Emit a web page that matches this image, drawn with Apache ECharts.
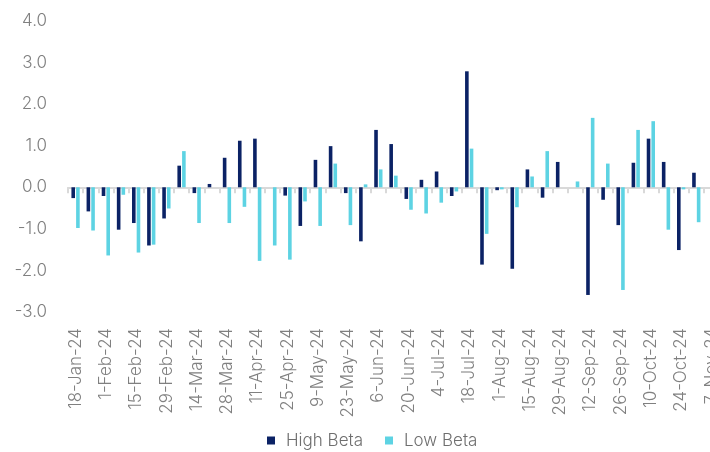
<!DOCTYPE html>
<html>
<head>
<meta charset="utf-8">
<script src="https://cdn.jsdelivr.net/npm/echarts@6/dist/echarts.min.js"></script>
<style>
  html, body { margin: 0; padding: 0; background: #fff; overflow: hidden; }
  /* chart is a bit wider than the window: the last week is cut off, as in the source */
  #chart { width: 720px; height: 452px; }
</style>
</head>
<body>
<div id="chart"></div>
<script>
// weekly dates (x axis)
const weeks = [
  "18-Jan-24", "25-Jan-24", "1-Feb-24", "8-Feb-24", "15-Feb-24", "22-Feb-24",
  "29-Feb-24", "7-Mar-24", "14-Mar-24", "21-Mar-24", "28-Mar-24", "4-Apr-24",
  "11-Apr-24", "18-Apr-24", "25-Apr-24", "2-May-24", "9-May-24", "16-May-24",
  "23-May-24", "30-May-24", "6-Jun-24", "13-Jun-24", "20-Jun-24", "27-Jun-24",
  "4-Jul-24", "11-Jul-24", "18-Jul-24", "25-Jul-24", "1-Aug-24", "8-Aug-24",
  "15-Aug-24", "22-Aug-24", "29-Aug-24", "5-Sep-24", "12-Sep-24", "19-Sep-24",
  "26-Sep-24", "3-Oct-24", "10-Oct-24", "17-Oct-24", "24-Oct-24", "31-Oct-24",
  "7-Nov-24"
];

const highBeta = [
  -0.26, -0.58, -0.21, -1.02, -0.86, -1.40, -0.75, 0.52, -0.14, 0.08, 0.71, 1.12,
  1.17, 0, -0.20, -0.93, 0.66, 0.99, -0.14, -1.30, 1.38, 1.04, -0.28, 0.18,
  0.38, -0.21, 2.79, -1.86, -0.07, -1.96, 0.43, -0.25, 0.61, 0, -2.59, -0.30,
  -0.91, 0.59, 1.17, 0.61, -1.51, 0.35, null
];

const lowBeta = [
  -0.98, -1.04, -1.64, -0.18, -1.57, -1.38, -0.51, 0.87, -0.86, 0, -0.86, -0.47,
  -1.77, -1.40, -1.74, -0.34, -0.93, 0.57, -0.91, 0.07, 0.43, 0.28, -0.54, -0.63,
  -0.37, -0.10, 0.93, -1.12, -0.05, -0.48, 0.26, 0.87, 0, 0.14, 1.67, 0.57,
  -2.47, 1.38, 1.59, -1.02, -0.05, -0.84, null
];

const yTicks = { min: -3, max: 4, step: 1 };

const textColor = "#808080";
const fontFamily = "Inter, 'Noto Sans', sans-serif";

const myChart = echarts.init(document.getElementById("chart"));

const option = {
  animation: false,
  grid: {
    left: 68,
    top: 21,
    width: 651,
    bottom: 140,
    containLabel: false
  },
  legend: {
    top: 427,
    left: 262,
    itemWidth: 8,
    itemHeight: 8,
    itemGap: 22,
    icon: "rect",
    textStyle: {
      color: "#6e6e6e",
      fontSize: 17,
      fontWeight: 300,
      fontFamily: fontFamily,
      padding: [0, 0, 0, 6]
    },
    data: ["High Beta", "Low Beta"]
  },
  xAxis: [
    {
      // zero line with ticks
      type: "category",
      data: weeks,
      axisLine: { onZero: true, lineStyle: { color: "#d9d9d9", width: 2 } },
      axisTick: { show: true, interval: 0, length: 6, lineStyle: { color: "#d9d9d9", width: 2 } },
      axisLabel: { show: false }
    },
    {
      // date labels at the bottom
      type: "category",
      data: weeks,
      position: "bottom",
      axisLine: { show: false, onZero: false },
      axisTick: { show: false },
      axisLabel: {
        interval: 1,
        rotate: 90,
        margin: 16,
        color: textColor,
        fontSize: 17,
        fontWeight: 300,
        fontFamily: fontFamily
      }
    }
  ],
  yAxis: {
    type: "value",
    min: yTicks.min,
    max: yTicks.max,
    interval: yTicks.step,
    splitLine: { show: false },
    axisLine: { show: false },
    axisTick: { show: false },
    axisLabel: {
      margin: 21,
      color: textColor,
      fontSize: 17,
      fontWeight: 300,
      fontFamily: fontFamily,
      formatter: v => v.toFixed(1)
    }
  },
  series: [
    {
      name: "High Beta",
      type: "bar",
      xAxisIndex: 0,
      data: highBeta,
      barWidth: 3.6,
      barGap: "30%",
      itemStyle: { color: "#0b2265" }
    },
    {
      name: "Low Beta",
      type: "bar",
      xAxisIndex: 0,
      data: lowBeta,
      barWidth: 3.6,
      barGap: "30%",
      itemStyle: { color: "#5dd3e3" }
    }
  ]
};

myChart.setOption(option);
</script>
</body>
</html>
